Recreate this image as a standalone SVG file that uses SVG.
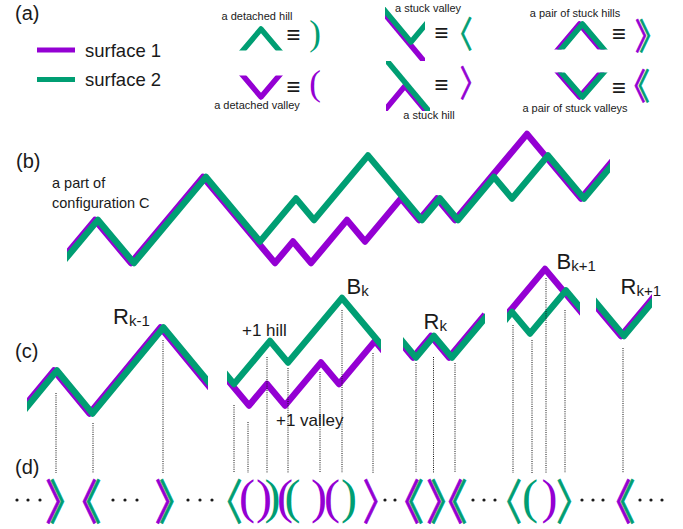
<svg xmlns="http://www.w3.org/2000/svg" width="683" height="529" viewBox="0 0 683 529">
<style>
text{font-family:"Liberation Sans",Arial,sans-serif;fill:#1a1a1a}
.lbl{font-size:20px}
.small{font-size:11px;text-anchor:middle}
.eq{font-size:24px;text-anchor:middle}
.ln{fill:none;stroke-linejoin:round;stroke-width:6.5}
.la{fill:none;stroke-linejoin:round;stroke-width:5.5}
.lg{fill:none;stroke-width:5}
.g{stroke:#009E73}
.p{stroke:#9400D3}
.tg{fill:#009E73}
.tp{fill:#9400D3}
.par{font-family:"Liberation Serif","Times New Roman",serif;text-anchor:middle}
.ang{font-family:"Noto Sans CJK JP",sans-serif;font-feature-settings:"palt" 1;stroke-width:0.8}
.ang.tg{stroke:#009E73}
.ang.tp{stroke:#9400D3}
.pd{font-size:48px}
.pa{font-size:35px}
.ad{font-size:48px}
.aa{font-size:36px}
.dl{stroke:#111;stroke-width:1;stroke-dasharray:1 1.2}
.big{font-size:22px}
.sub{font-size:15px}
.mid{font-size:17px}
.cfg{font-size:14.5px}
.leg{font-size:18.5px}
.dots circle{fill:#1a1a1a}
</style>
<defs>
<clipPath id="cb"><rect x="67" y="100" width="543" height="200"/></clipPath>
<clipPath id="cc1"><rect x="27" y="300" width="181" height="150"/></clipPath>
<clipPath id="cc2"><rect x="227" y="260" width="154" height="190"/></clipPath>
<clipPath id="cc3"><rect x="403" y="280" width="82" height="120"/></clipPath>
<clipPath id="cc4"><rect x="507" y="240" width="73" height="140"/></clipPath>
<clipPath id="cc5"><rect x="596" y="260" width="56" height="120"/></clipPath>
<clipPath id="ah"><rect x="230" y="0" width="60" height="50.5"/></clipPath>
<clipPath id="av"><rect x="230" y="75.5" width="60" height="40"/></clipPath>
<clipPath id="asv"><rect x="385" y="7" width="40" height="54"/></clipPath>
<clipPath id="ash"><rect x="386" y="61" width="44" height="50"/></clipPath>
<clipPath id="aph"><rect x="550" y="10" width="65" height="39.5"/></clipPath>
<clipPath id="apv"><rect x="550" y="72.5" width="65" height="40"/></clipPath>
</defs>

<g id="panel-labels">
<text class="lbl" x="15" y="20">(a)</text>
<text class="lbl" x="16" y="168">(b)</text>
<text class="lbl" x="15" y="358">(c)</text>
<text class="lbl" x="15" y="474">(d)</text>
</g>

<g id="legend">
<line class="lg p" x1="37" y1="50" x2="75" y2="50"/>
<text class="leg" x="85" y="57">surface 1</text>
<line class="lg g" x1="37" y1="79.5" x2="75" y2="79.5"/>
<text class="leg" x="85" y="86">surface 2</text>
</g>

<g id="detached-hill">
<text class="small" x="257" y="20">a detached hill</text>
<path class="la g" clip-path="url(#ah)" d="M234,61 L261,29 L288,61"/>
<text class="eq" x="293.5" y="42.5">≡</text>
<text class="par pa tg" x="315" y="44.6">)</text>
</g>
<g id="detached-valley">
<path class="la p" clip-path="url(#av)" d="M234,65 L261,97 L288,65"/>
<text class="eq" x="293.5" y="95">≡</text>
<text class="par pa tp" x="315" y="94.6">(</text>
<text class="small" x="257" y="109">a detached valley</text>
</g>
<g id="stuck-valley">
<text class="small" x="428" y="12">a stuck valley</text>
<g clip-path="url(#asv)">
<path class="la p" d="M378,6 L438,78"/>
<path class="la g" d="M381,6 L411,42 L432,16.8"/>
</g>
<text class="eq" x="441.5" y="40.5">≡</text>
</g>
<g id="stuck-hill">
<g clip-path="url(#ash)">
<path class="la p" d="M375,122 L405,86 L435,122"/>
<path class="la g" d="M378,50 L440,124.4"/>
</g>
<text class="eq" x="441.5" y="92.5">≡</text>
<text class="small" x="429" y="119">a stuck hill</text>
</g>
<g id="stuck-hills-pair">
<text class="small" x="575" y="17">a pair of stuck hills</text>
<g clip-path="url(#aph)">
<path class="la p" d="M550,59 L579.5,24 L609,59"/>
<path class="la g" d="M553,59 L582.5,24 L612,59"/>
</g>
<text class="eq" x="619" y="41.5">≡</text>
</g>
<g id="stuck-valleys-pair">
<g clip-path="url(#apv)">
<path class="la p" d="M550,63 L579.5,97 L609,63"/>
<path class="la g" d="M553,63 L582.5,97 L612,63"/>
</g>
<text class="eq" x="619" y="95.5">≡</text>
<text class="small" x="575" y="112">a pair of stuck valleys</text>
</g>
<g id="legend-brackets" transform="scale(0.75,1)">
<text class="ang aa tg" x="611.07" y="48">〈</text>
<text class="ang aa tp" x="613.77" y="97.5">〉</text>
<text class="ang aa tp" x="847.1" y="50">〉</text>
<text class="ang aa tg" x="852.44" y="50">〉</text>
<text class="ang aa tp" x="842.4" y="100.3">〈</text>
<text class="ang aa tg" x="847.74" y="100.3">〈</text>
</g>

<g id="configuration-b">
<text class="cfg" x="52" y="188">a part of</text>
<text class="cfg" x="52" y="208">configuration C</text>
<g clip-path="url(#cb)">
<path class="ln p" d="M59,263 L95,220 L131,263 L203,177 L275,263 L293,241.5 L311,263 L347,220 L365,241.5 L401,198.5 L419,220 L437,198.5 L455,220 L527,134 L581,198.5 L617,155.5"/>
<path class="ln g" d="M62,263 L98,220 L134,263 L206,177 L260,241.5 L296,198.5 L314,220 L368,155.5 L422,220 L440,198.5 L458,220 L494,177 L512,198.5 L548,155.5 L584,198.5 L620,155.5"/>
</g>
</g>

<g id="segment-Rk-1">
<g clip-path="url(#cc1)">
<path class="ln p" d="M18.5,413.5 L54,370.5 L89.5,413.5 L160.5,327.5 L213.75,392"/>
<path class="ln g" d="M21.5,413.5 L57,370.5 L92.5,413.5 L163.5,327.5 L216.75,392"/>
</g>
<text class="big" x="113" y="324">R<tspan class="sub" dy="2">k-1</tspan></text>
</g>
<g id="segment-Bk">
<g clip-path="url(#cc2)">
<path class="ln p" d="M213,362.5 L249,405.5 L267,384 L285,405.5 L321,362.5 L339,384 L375,341 L393,362.5"/>
<path class="ln g" d="M216,362.5 L234,384 L270,341 L288,362.5 L342,298 L396,362.5"/>
</g>
<text class="mid" x="242" y="336">+1 hill</text>
<text class="mid" x="276" y="426">+1 valley</text>
<text class="big" x="346.5" y="294">B<tspan class="sub" dy="2">k</tspan></text>
</g>
<g id="segment-Rk">
<g clip-path="url(#cc3)">
<path class="ln p" d="M395,336 L413,357.5 L431,336 L449,357.5 L485,314.5"/>
<path class="ln g" d="M398,336 L416,357.5 L434,336 L452,357.5 L488,314.5"/>
</g>
<text class="big" x="423.5" y="329">R<tspan class="sub" dy="2">k</tspan></text>
</g>
<g id="segment-Bk+1">
<g clip-path="url(#cc4)">
<path class="ln p" d="M473,355 L545,269 L599,333.5"/>
<path class="ln g" d="M494,333.5 L512,312 L530,333.5 L566,290.5 L602,333.5"/>
</g>
<text class="big" x="556.5" y="269">B<tspan class="sub" dy="2">k+1</tspan></text>
</g>
<g id="segment-Rk+1">
<g clip-path="url(#cc5)">
<path class="ln p" d="M585,293 L621,336 L657,293"/>
<path class="ln g" d="M588,293 L624,336 L660,293"/>
</g>
<text class="big" x="620.5" y="294">R<tspan class="sub" dy="2">k+1</tspan></text>
</g>

<g id="connectors">
<line class="dl" x1="56" y1="393" x2="56" y2="473"/>
<line class="dl" x1="93" y1="423" x2="93" y2="473"/>
<line class="dl" x1="163" y1="340" x2="163" y2="473"/>
<line class="dl" x1="234" y1="405" x2="234" y2="473"/>
<line class="dl" x1="248" y1="422" x2="248" y2="473"/>
<line class="dl" x1="267" y1="357" x2="267" y2="473"/>
<line class="dl" x1="288" y1="368" x2="288" y2="473"/>
<line class="dl" x1="320" y1="372" x2="320" y2="473"/>
<line class="dl" x1="342" y1="310" x2="342" y2="473"/>
<line class="dl" x1="373" y1="353" x2="373" y2="473"/>
<line class="dl" x1="416" y1="363" x2="416" y2="473"/>
<line class="dl" x1="433.5" y1="357" x2="433.5" y2="473"/>
<line class="dl" x1="455" y1="363" x2="455" y2="473"/>
<line class="dl" x1="513" y1="325" x2="513" y2="473"/>
<line class="dl" x1="532" y1="340" x2="532" y2="473"/>
<line class="dl" x1="546" y1="278" x2="546" y2="473"/>
<line class="dl" x1="565" y1="310" x2="565" y2="473"/>
<line class="dl" x1="623" y1="348" x2="623" y2="473"/>
</g>

<g id="sequence-d">
<g class="dots">
<circle cx="17" cy="500" r="1.6"/><circle cx="28" cy="500" r="1.6"/><circle cx="40" cy="500" r="1.6"/>
<circle cx="113" cy="500" r="1.6"/><circle cx="125" cy="500" r="1.6"/><circle cx="137" cy="500" r="1.6"/>
<circle cx="188" cy="500" r="1.6"/><circle cx="200" cy="500" r="1.6"/><circle cx="212" cy="500" r="1.6"/>
<circle cx="385" cy="500" r="1.6"/><circle cx="395" cy="500" r="1.6"/>
<circle cx="473" cy="500" r="1.6"/><circle cx="484" cy="500" r="1.6"/><circle cx="495" cy="500" r="1.6"/>
<circle cx="582" cy="500" r="1.6"/><circle cx="593" cy="500" r="1.6"/><circle cx="603" cy="500" r="1.6"/>
<circle cx="640" cy="500" r="1.6"/><circle cx="651" cy="500" r="1.6"/><circle cx="662" cy="500" r="1.6"/>
</g>
<text class="par pd tp" x="247" y="513">(</text>
<text class="par pd tp" x="264" y="513">)</text>
<text class="par pd tg" x="272.5" y="513">)</text>
<text class="par pd tp" x="285" y="513">(</text>
<text class="par pd tg" x="292.5" y="513">(</text>
<text class="par pd tp" x="319" y="513">)</text>
<text class="par pd tp" x="332" y="513">(</text>
<text class="par pd tg" x="349" y="513">)</text>
<text class="par pd tg" x="530" y="513">(</text>
<text class="par pd tp" x="549.5" y="513">)</text>
<g transform="scale(0.75,1)">
<text class="ang ad tp" x="61.25" y="519">〉</text>
<text class="ang ad tg" x="66.59" y="519">〉</text>
<text class="ang ad tp" x="104.99" y="519">〈</text>
<text class="ang ad tg" x="110.32" y="519">〈</text>
<text class="ang ad tp" x="207.25" y="519">〉</text>
<text class="ang ad tg" x="212.59" y="519">〉</text>
<text class="ang ad tg" x="298.32" y="519">〈</text>
<text class="ang ad tp" x="484.59" y="519">〉</text>
<text class="ang ad tp" x="534.99" y="519">〈</text>
<text class="ang ad tg" x="540.32" y="519">〈</text>
<text class="ang ad tp" x="569.25" y="519">〉</text>
<text class="ang ad tg" x="574.59" y="519">〉</text>
<text class="ang ad tp" x="592.99" y="519">〈</text>
<text class="ang ad tg" x="598.32" y="519">〈</text>
<text class="ang ad tg" x="670.99" y="519">〈</text>
<text class="ang ad tg" x="742.59" y="519">〉</text>
<text class="ang ad tp" x="816.99" y="519">〈</text>
<text class="ang ad tg" x="822.32" y="519">〈</text>
</g>
</g>
</svg>
